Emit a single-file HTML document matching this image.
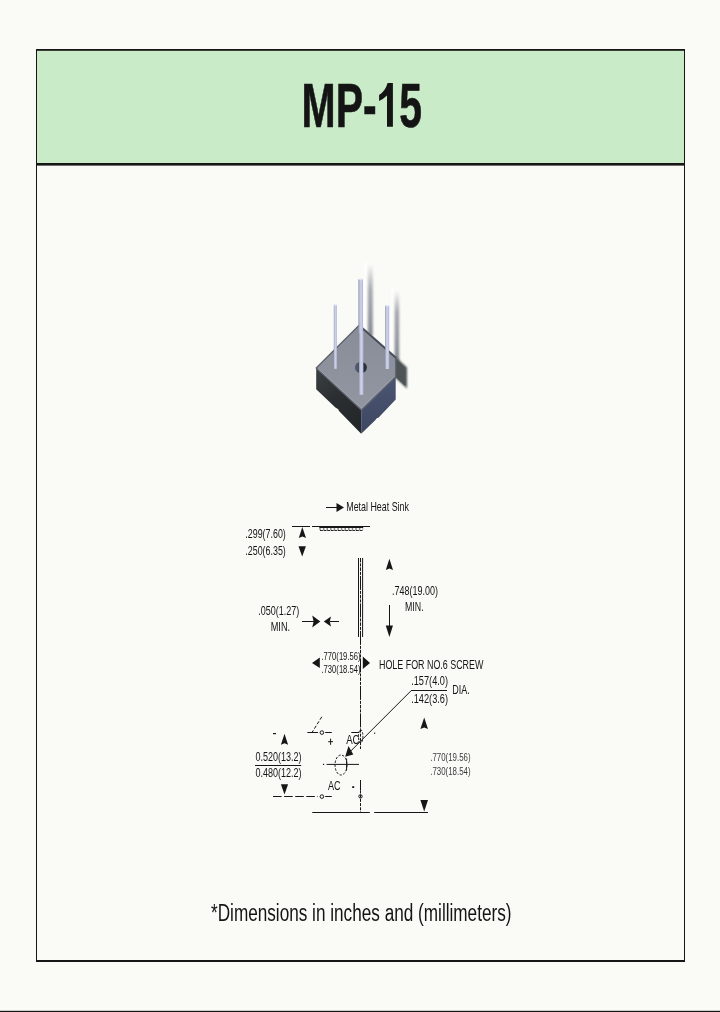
<!DOCTYPE html>
<html>
<head>
<meta charset="utf-8">
<title>MP-15</title>
<style>
  html, body { margin: 0; padding: 0; }
  body { width: 720px; height: 1012px; background: #fafbf6; overflow: hidden;
         font-family: "Liberation Sans", sans-serif; }
  svg { position: absolute; left: 0; top: 0; display: block; }
  text { font-family: "Liberation Sans", sans-serif; fill: #141414; opacity: 0.999; }
  .lbl { font-size: 12.8px; }
  .ln { stroke: #161616; stroke-width: 1; fill: none; }
  .ar { fill: #161616; stroke: none; }
</style>
</head>
<body>
<svg width="720" height="1012" viewBox="0 0 720 1012">
  <!-- page background -->
  <rect x="0" y="0" width="720" height="1012" fill="#fafbf6"/>

  <!-- header band -->
  <rect x="37" y="50" width="647" height="114" fill="#c9ebc8"/>

  <!-- frame -->
  <rect x="36.5" y="49.5" width="648" height="911" fill="none" stroke="#161616" stroke-width="1"/>
  <rect x="36" y="49" width="649" height="1.8" fill="#161616"/>
  <rect x="36" y="960" width="649" height="2" fill="#161616"/>
  <rect x="36" y="163" width="649" height="2.6" fill="#161616"/>

  <!-- bottom page rule -->
  <rect x="0" y="1010.8" width="720" height="1.2" fill="#161616"/>

  <!-- title -->
  <g id="title" font-size="63.2" font-weight="bold" stroke="#1c1c1c" stroke-width="0.7">
    <text x="301.6" y="126.5" textLength="74.94" lengthAdjust="spacingAndGlyphs">MP-</text>
    <path d="M387.6,83 L392.9,83 L392.9,126.7 L387,126.7 L387,95.6 Q383.4,99.2 379.1,100.9 L379.1,94.9 Q385.2,91.4 387.6,83 Z" fill="#141414" stroke="none"/>
    <text x="399.27" y="126.5" textLength="22.73" lengthAdjust="spacingAndGlyphs">5</text>
  </g>

  <!-- footnote -->
  <text id="foot" fill="#0a0a0a" x="211" y="920.7" font-size="24.7" textLength="300.5" lengthAdjust="spacingAndGlyphs">*Dimensions in inches and (millimeters)</text>

  <!--COMPONENT-BEGIN-->
  <defs>
    <filter id="b1" x="-50%" y="-20%" width="200%" height="140%"><feGaussianBlur stdDeviation="1.1"/></filter>
    <filter id="b2" x="-50%" y="-50%" width="200%" height="200%"><feGaussianBlur stdDeviation="1.3"/></filter>
    <filter id="b05" x="-20%" y="-20%" width="140%" height="140%"><feGaussianBlur stdDeviation="0.45"/></filter>
    <linearGradient id="pinG" x1="0" y1="0" x2="1" y2="0">
      <stop offset="0" stop-color="#9499ad"/>
      <stop offset="0.3" stop-color="#c4c8da"/>
      <stop offset="0.6" stop-color="#cdd0ec"/>
      <stop offset="1" stop-color="#aeb3dc"/>
    </linearGradient>
    <linearGradient id="shV1" x1="0" y1="0" x2="0" y2="1">
      <stop offset="0" stop-color="#8c909a" stop-opacity="0"/>
      <stop offset="0.35" stop-color="#90949e" stop-opacity="0.75"/>
      <stop offset="1" stop-color="#868a94" stop-opacity="1"/>
    </linearGradient>
    <linearGradient id="shV2" x1="0" y1="0" x2="0" y2="1">
      <stop offset="0" stop-color="#8c909a" stop-opacity="0"/>
      <stop offset="0.3" stop-color="#90949e" stop-opacity="0.8"/>
      <stop offset="1" stop-color="#848892" stop-opacity="1"/>
    </linearGradient>
    <linearGradient id="leftF" x1="0" y1="0" x2="0.6" y2="1">
      <stop offset="0" stop-color="#3b4043"/>
      <stop offset="0.5" stop-color="#2b2f32"/>
      <stop offset="1" stop-color="#25282b"/>
    </linearGradient>
    <linearGradient id="rightF" x1="0" y1="0" x2="0" y2="1">
      <stop offset="0" stop-color="#4a5572"/>
      <stop offset="1" stop-color="#3e4762"/>
    </linearGradient>
    <linearGradient id="topF" x1="0" y1="0" x2="0" y2="1">
      <stop offset="0" stop-color="#888d98"/>
      <stop offset="1" stop-color="#9196a1"/>
    </linearGradient>
    <linearGradient id="holeG" x1="0" y1="0" x2="1" y2="0">
      <stop offset="0" stop-color="#566076"/>
      <stop offset="0.45" stop-color="#454d60"/>
      <stop offset="0.6" stop-color="#292c33"/>
      <stop offset="1" stop-color="#2b2e35"/>
    </linearGradient>
    <clipPath id="imgclip"><rect x="300" y="255" width="110" height="190"/></clipPath>
  </defs>
  <g id="component" clip-path="url(#imgclip)">
    <!-- pin shadows -->
    <rect x="364.2" y="262" width="3" height="66" fill="#ffffff" filter="url(#b1)" opacity="0.9"/>
    <rect x="367.8" y="264" width="5" height="72" fill="url(#shV1)" filter="url(#b1)"/>
    <rect x="391" y="288" width="3" height="64" fill="#ffffff" filter="url(#b1)" opacity="0.9"/>
    <rect x="394.6" y="291" width="4.6" height="72" fill="url(#shV2)" filter="url(#b1)"/>
    <!-- cube shadow -->
    <polygon points="394,355.6 407,367.4 407,388.6 394,376.4" fill="#4d5456" filter="url(#b2)"/>
    <polygon points="394,357 405.2,367.4 405.2,386 394,375.6" fill="#4d5456"/>

    <!-- cube faces -->
    <polygon points="316.2,367.8 361.2,409.6 361.2,433.8 339,411 338.2,409.2 335.4,407.4 316.2,389.2" fill="url(#leftF)"/>
    <polygon points="361.2,409.6 395.7,376.6 395.7,399.4 378.4,417.8 377,418 375.2,420.2 361.2,433.8" fill="url(#rightF)"/>
    <polygon points="359.4,325 395.7,357 395.7,376.8 361.4,410 316.2,368" fill="url(#topF)" stroke="#5f646f" stroke-width="1.3" stroke-linejoin="round"/>
    <!-- shadow line along upper right edge -->
    <line x1="363.5" y1="329.4" x2="395.7" y2="357.9" stroke="#434853" stroke-width="1.3" filter="url(#b05)"/>
    <!-- bevel highlight on lower edges -->
    <polyline points="318.2,368.6 361.4,408 394.8,376" fill="none" stroke="#9ea3ad" stroke-width="0.9"/>

    <!-- hole -->
    <ellipse cx="360.9" cy="367.5" rx="6" ry="5.8" fill="url(#holeG)" filter="url(#b05)"/>

    <!-- back pin -->
    <rect x="358.6" y="279.2" width="4.4" height="53.6" fill="url(#pinG)"/>
    <rect x="358.9" y="278.7" width="3.8" height="1.6" rx="0.8" fill="#e4e6f6"/>
    <!-- pins -->
    <rect x="333.8" y="304.8" width="3.1" height="64" fill="url(#pinG)"/>
    <rect x="333.9" y="304.3" width="2.9" height="1.5" rx="0.7" fill="#e4e6f6"/>
    <rect x="385.1" y="305.4" width="4.1" height="63.6" fill="url(#pinG)"/>
    <rect x="385.3" y="304.9" width="3.7" height="1.6" rx="0.8" fill="#e4e6f6"/>
    <rect x="359" y="331.6" width="4.4" height="63.2" fill="url(#pinG)"/>
    <rect x="359.2" y="330.8" width="4" height="2" rx="1" fill="#f0f1fb"/>
  </g>
  <!--COMPONENT-END-->

  <g id="diagram">
    <!-- Metal Heat Sink label -->
    <line class="ln" x1="326" y1="507.5" x2="338" y2="507.5"/>
    <polygon class="ar" points="336.5,503 344,507.5 336.5,512"/>
    <text class="lbl" x="346.3" y="511.2" textLength="62.6" lengthAdjust="spacingAndGlyphs">Metal Heat Sink</text>

    <!-- heat sink line -->
    <line class="ln" x1="292" y1="526.5" x2="310" y2="526.5"/>
    <line class="ln" x1="312" y1="526.5" x2="370" y2="526.5"/>
    <rect class="ar" x="319.3" y="527" width="43.9" height="1"/>
    <line class="ln" x1="319.3" y1="529" x2="363.2" y2="529" stroke-width="2" stroke-dasharray="1.5 2.1"/>
    <line class="ln" x1="320" y1="530.5" x2="363.2" y2="530.5" stroke-dasharray="2.9 0.7" stroke-opacity="0.92"/>

    <!-- .299/.250 -->
    <polygon class="ar" points="302.3,526.9 306,538.1 302.4,536.6 298.8,538.1"/>
    <polygon class="ar" points="298.5,546.3 305.9,546.3 302.2,556.6"/>
    <text class="lbl" x="245.3" y="538" textLength="40.5" lengthAdjust="spacingAndGlyphs">.299(7.60)</text>
    <text class="lbl" x="245.3" y="554.6" textLength="40.5" lengthAdjust="spacingAndGlyphs">.250(6.35)</text>

    <!-- back pin -->
    <rect x="358.6" y="279.2" width="4.4" height="53.6" fill="url(#pinG)"/>
    <rect x="358.9" y="278.7" width="3.8" height="1.6" rx="0.8" fill="#e4e6f6"/>
    <!-- pins -->
    <line class="ln" x1="358.5" y1="558" x2="358.5" y2="637"/>
    <line class="ln" x1="362.6" y1="558" x2="362.6" y2="637"/>
    <line class="ln" x1="360.5" y1="558" x2="360.5" y2="729.5" stroke-dasharray="14 1 3 1 3.5 1 3 1" stroke-dashoffset="9.6"/>
    <line class="ln" x1="360.5" y1="729.5" x2="360.5" y2="749" stroke-dasharray="3 1.2"/>
    <line class="ln" x1="360.5" y1="780" x2="360.5" y2="790.5"/>
    <line class="ln" x1="360.5" y1="790.5" x2="360.5" y2="812" stroke-dasharray="3 1.2"/>

    <!-- .748(19.00) MIN -->
    <polygon class="ar" points="389.4,558.8 393,569.9 389.4,568.5 385.8,569.9"/>
    <line class="ln" x1="389.5" y1="605" x2="389.5" y2="628"/>
    <polygon class="ar" points="385.8,625.5 393,625.5 389.4,637"/>
    <text class="lbl" x="392" y="595" textLength="46" lengthAdjust="spacingAndGlyphs">.748(19.00)</text>
    <text class="lbl" x="405" y="610.9" textLength="18.6" lengthAdjust="spacingAndGlyphs">MIN.</text>

    <!-- .050(1.27) MIN -->
    <text class="lbl" x="258.3" y="614.7" textLength="41" lengthAdjust="spacingAndGlyphs">.050(1.27)</text>
    <text class="lbl" x="270.7" y="630.6" textLength="19.4" lengthAdjust="spacingAndGlyphs">MIN.</text>
    <line class="ln" x1="302" y1="621.5" x2="314" y2="621.5"/>
    <polygon class="ar" points="312.2,615.6 320.3,621.5 312.2,627.4 313.6,621.5"/>
    <polygon class="ar" points="331,616.4 323.8,621.5 331,626.6 329.8,621.5"/>
    <line class="ln" x1="330" y1="621.5" x2="339" y2="621.5"/>

    <!-- .770/.730 horizontal -->
    <polygon class="ar" points="312,663 319.8,657.6 319.8,668"/>
    <polygon class="ar" points="362.8,656.6 370,663 362.8,669"/>
    <text class="lbl" style="font-size:11.8px" x="321.5" y="659.9" textLength="39" lengthAdjust="spacingAndGlyphs">.770(19.56)</text>
    <text class="lbl" style="font-size:11.8px" x="321.5" y="673.2" textLength="39" lengthAdjust="spacingAndGlyphs">.730(18.54)</text>

    <!-- hole note -->
    <text class="lbl" x="379" y="668.9" textLength="104.4" lengthAdjust="spacingAndGlyphs">HOLE FOR NO.6 SCREW</text>
    <text class="lbl" x="411.2" y="685.1" textLength="36.8" lengthAdjust="spacingAndGlyphs">.157(4.0)</text>
    <line class="ln" x1="411" y1="690.5" x2="447" y2="690.5"/>
    <text class="lbl" x="411.2" y="702.8" textLength="36.8" lengthAdjust="spacingAndGlyphs">.142(3.6)</text>
    <text class="lbl" x="452.2" y="694.3" textLength="17.5" lengthAdjust="spacingAndGlyphs">DIA.</text>
    <line class="ln" x1="411.3" y1="690.5" x2="347" y2="754.8" stroke-width="1"/>
    <polygon class="ar" points="345.2,756.8 348.5,746 353.3,754.4"/>

    <!-- .770/.730 vertical (right) -->
    <polygon class="ar" points="424.2,717.6 428,728.9 424.2,727.5 420.4,728.9"/>
    <polygon class="ar" points="420.4,800 428,800 424.2,811.5"/>
    <text class="lbl" style="font-size:11.6px" x="430.2" y="761.2" textLength="40.4" lengthAdjust="spacingAndGlyphs" fill-opacity="0.85">.770(19.56)</text>
    <text class="lbl" style="font-size:11.6px" x="430.2" y="774.6" textLength="40.4" lengthAdjust="spacingAndGlyphs" fill-opacity="0.85">.730(18.54)</text>

    <!-- bottom base line -->
    <line class="ln" x1="312.3" y1="812.5" x2="369.8" y2="812.5"/>
    <line class="ln" x1="374.2" y1="812.5" x2="428" y2="812.5"/>

    <!-- 0.520 / 0.480 -->
    <rect class="ar" x="273" y="733" width="3" height="1.2"/>
    <polygon class="ar" points="284.5,733.8 288.1,744.7 284.5,743.3 280.9,744.7"/>
    <polygon class="ar" points="280.9,784.2 288.1,784.2 284.5,794.6"/>
    <text class="lbl" x="255.4" y="760.7" textLength="46.2" lengthAdjust="spacingAndGlyphs">0.520(13.2)</text>
    <line class="ln" x1="255" y1="765.5" x2="301.2" y2="765.5"/>
    <text class="lbl" x="255.4" y="777.4" textLength="46.2" lengthAdjust="spacingAndGlyphs">0.480(12.2)</text>

    <!-- terminals -->
    <line class="ln" x1="307.4" y1="732.5" x2="318" y2="732.5"/>
    <circle class="ln" cx="321.9" cy="732.6" r="1.8"/>
    <line class="ln" x1="325.2" y1="732.5" x2="331.8" y2="732.5"/>
    <line class="ln" x1="321.8" y1="716.8" x2="312.3" y2="732" stroke-dasharray="3.4 1.9"/>
    <line class="ln" x1="273" y1="796.5" x2="318" y2="796.5" stroke-dasharray="8.6 2.5"/>
    <circle class="ln" cx="321.9" cy="796.6" r="1.8"/>
    <line class="ln" x1="325.2" y1="796.5" x2="331.8" y2="796.5"/>
    <circle class="ln" cx="360.5" cy="796.4" r="1.7"/>

    <!-- plus / minus -->
    <line class="ln" x1="328.2" y1="741.7" x2="333" y2="741.7"/>
    <line class="ln" x1="330.6" y1="738.6" x2="330.6" y2="744.8"/>
    <rect class="ar" x="352.2" y="786.2" width="2" height="1.8"/>
    <rect class="ar" x="374" y="732.6" width="1.2" height="1.2"/>

    <!-- AC labels -->
    <text class="lbl" x="346.2" y="743.6" textLength="13.4" lengthAdjust="spacingAndGlyphs">AC</text>
    <text class="lbl" x="328" y="789.7" textLength="12.6" lengthAdjust="spacingAndGlyphs">AC</text>
    <line class="ln" x1="351.3" y1="732.5" x2="359" y2="732.5"/>
    <ellipse class="ln" cx="360.7" cy="736.3" rx="2.2" ry="6.5" stroke-dasharray="2.2 1.3"/>

    <!-- hole -->
    <ellipse class="ln" cx="341" cy="765" rx="6" ry="10" stroke-dasharray="2.4 1.5"/>
    <line class="ln" x1="346.6" y1="758.5" x2="346.6" y2="770.5"/>
    <rect class="ar" x="323" y="763.8" width="1.2" height="1.2"/>
    <line class="ln" x1="326.6" y1="764.4" x2="359" y2="764.4"/>
  </g>
  <!--DIAGRAM-END-->
</svg>
</body>
</html>
